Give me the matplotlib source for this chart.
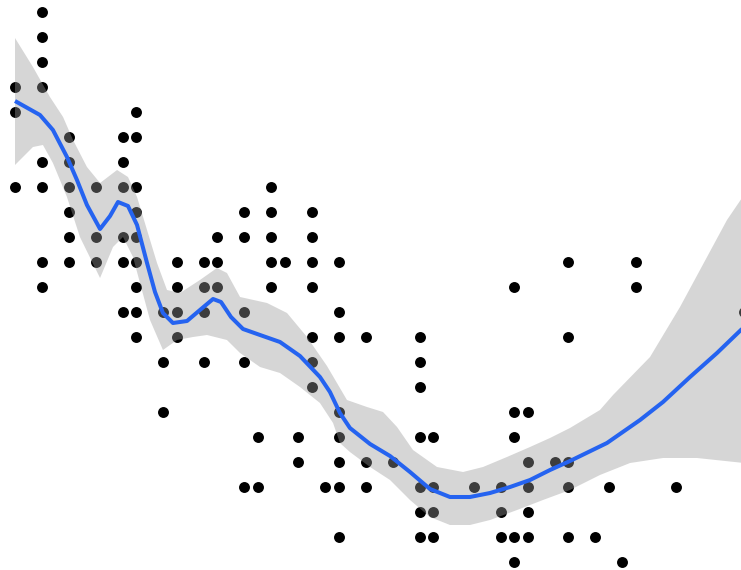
import numpy as np
import matplotlib
matplotlib.use("Agg")
import matplotlib.pyplot as plt

# Engine displacement (L) vs highway mpg, one entry per visible point
displ_groups = {
    1.6: [33, 32, 29],
    1.8: [36, 35, 34, 33, 30, 29, 26, 25],
    2.0: [31, 30, 29, 28, 27, 26],
    2.2: [29, 27, 26],
    2.4: [31, 30, 29, 27, 26, 24],
    2.5: [32, 31, 29, 28, 27, 26, 25, 24, 23],
    2.7: [24, 22, 20],
    2.8: [26, 25, 24, 23],
    3.0: [26, 25, 24, 22],
    3.1: [27, 26, 25],
    3.3: [28, 27, 24, 22, 17],
    3.4: [19, 17],
    3.5: [29, 28, 27, 26, 25],
    3.6: [26],
    3.7: [19, 18],
    3.8: [28, 27, 26, 25, 23, 22, 21],
    3.9: [17],
    4.0: [26, 24, 23, 20, 19, 18, 17, 15],
    4.2: [23, 18, 17],
    4.4: [18],
    4.6: [23, 22, 21, 19, 17, 16, 15],
    4.7: [19, 17, 16, 15],
    5.0: [17],
    5.2: [17, 16, 15],
    5.3: [25, 20, 19, 15, 14],
    5.4: [20, 18, 17, 16, 15],
    5.6: [18],
    5.7: [26, 23, 18, 17, 15],
    5.9: [15],
    6.0: [17],
    6.1: [14],
    6.2: [26, 25],
    6.5: [17],
    7.0: [24],
}
displ = [d for d, hs in displ_groups.items() for _ in hs]
hwy = [h for hs in displ_groups.values() for h in hs]

# Smoothed trend
smooth_x = [1.600, 1.785, 1.881, 1.985, 2.059, 2.133, 2.230, 2.304, 2.363, 2.437,
            2.504, 2.578, 2.637, 2.696, 2.770, 2.874, 2.970, 3.067, 3.126, 3.200,
            3.289, 3.415, 3.563, 3.711, 3.859, 3.933, 4.007, 4.081, 4.230, 4.378,
            4.526, 4.674, 4.822, 4.970, 5.119, 5.267, 5.415, 5.563, 5.711, 5.985,
            6.230, 6.400, 6.600, 6.800, 7.000]
smooth_y = [32.44, 31.88, 31.28, 30.20, 29.28, 28.28, 27.32, 27.84, 28.40, 28.24,
            27.48, 25.96, 24.80, 23.96, 23.56, 23.64, 24.08, 24.52, 24.40, 23.80,
            23.32, 23.08, 22.80, 22.24, 21.40, 20.80, 19.96, 19.36, 18.72, 18.24,
            17.60, 16.92, 16.60, 16.60, 16.76, 17.00, 17.28, 17.68, 18.04, 18.76,
            19.68, 20.40, 21.40, 22.36, 23.40]

# Confidence band edges
upper_x = [1.600, 1.733, 1.859, 1.956, 2.030, 2.133, 2.230, 2.356, 2.437, 2.504,
           2.578, 2.652, 2.726, 2.822, 2.970, 3.096, 3.170, 3.267, 3.467, 3.615,
           3.763, 3.911, 4.059, 4.207, 4.326, 4.430, 4.548, 4.726, 4.919, 5.067,
           5.244, 5.415, 5.563, 5.711, 5.933, 6.030, 6.304, 6.526, 6.726, 6.874,
           7.000]
upper_y = [34.96, 33.80, 32.60, 31.80, 30.88, 29.80, 29.16, 29.68, 29.40, 28.60,
           27.28, 25.96, 24.88, 24.76, 25.28, 25.76, 25.56, 24.60, 24.36, 23.96,
           23.00, 21.84, 20.48, 20.20, 20.00, 19.40, 18.48, 17.80, 17.60, 17.80,
           18.20, 18.60, 18.96, 19.36, 20.08, 20.68, 22.20, 24.20, 26.20, 27.68,
           28.68]
lower_x = [1.600, 1.733, 1.807, 1.881, 1.985, 2.081, 2.230, 2.326, 2.400, 2.474,
           2.526, 2.600, 2.696, 2.800, 2.919, 3.022, 3.170, 3.267, 3.415, 3.563,
           3.711, 3.859, 3.956, 4.007, 4.081, 4.230, 4.378, 4.526, 4.674, 4.822,
           4.970, 5.119, 5.319, 5.511, 5.711, 5.933, 6.156, 6.400, 6.652, 7.000]
lower_y = [29.88, 30.60, 30.68, 29.96, 28.60, 27.00, 25.36, 26.60, 27.00, 26.20,
           25.16, 23.68, 22.48, 22.88, 23.00, 23.08, 22.88, 22.36, 21.80, 21.56,
           21.00, 20.36, 19.56, 18.76, 18.40, 17.80, 17.28, 16.48, 15.80, 15.48,
           15.48, 15.68, 16.08, 16.48, 16.88, 17.48, 17.96, 18.16, 18.16, 17.96]

fig = plt.figure(figsize=(7.41, 5.70), dpi=100)
ax = fig.add_axes([0, 0, 1, 1])
ax.set_axis_off()

ax.scatter(displ, hwy, s=62, c="black", linewidths=0, zorder=1)

band_x = np.concatenate([upper_x, lower_x[::-1]])
band_y = np.concatenate([upper_y, lower_y[::-1]])
ax.fill(band_x, band_y, color="#999999", alpha=0.4, linewidth=0, zorder=2)

ax.plot(smooth_x, smooth_y, color="#2563f0", linewidth=2.9,
        solid_joinstyle="round", solid_capstyle="butt", zorder=3)

ax.set_xlim(1.4889, 6.9778)
ax.set_ylim(13.68, 36.48)

fig.savefig("out.png", dpi=100, facecolor="white")
